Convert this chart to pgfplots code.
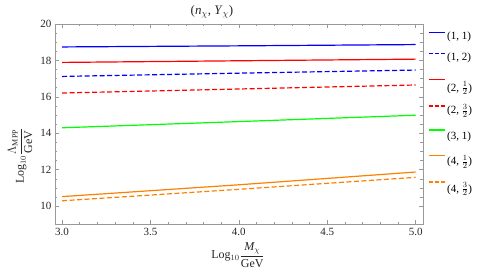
\documentclass[border=0pt]{standalone}
\usepackage{fontspec}
\setmainfont{Liberation Serif}
\usepackage{pgfplots}
\pgfplotsset{compat=1.18}
\definecolor{mblue}{rgb}{0,0,1}
\definecolor{mred}{rgb}{1,0,0}
\definecolor{mgreen}{rgb}{0,1,0}
\definecolor{morange}{rgb}{1,0.5,0}
\newcommand{\vstrut}[1]{\rule[\dimexpr 3pt - #1pt\relax]{0pt}{\dimexpr #1pt + #1pt\relax}}
\pgfplotsset{
  legsolid/.style={legend image code/.code={\draw[draw=#1, line width=1.2pt] (0pt,0pt) -- (16pt,0pt);}},
  legdash/.style={legend image code/.code={\draw[draw=#1, line width=1.2pt, dash pattern=on 4pt off 2pt] (0pt,0pt) -- (16pt,0pt);}},
}
\begin{document}
\begin{tikzpicture}
\useasboundingbox (0pt,0pt) rectangle (491pt,280pt);
\begin{axis}[at={(55pt,55.7pt)}, anchor=south west, scale only axis,
  width=367.7pt, height=200.3pt,
  xmin=2.96, xmax=5.04, ymin=9, ymax=20,
  xtick={3,3.5,4,4.5,5}, minor x tick num=4,
  ytick={10,12,14,16,18,20}, minor y tick num=3,
  xticklabel style={/pgf/number format/fixed, /pgf/number format/fixed zerofill, /pgf/number format/precision=1},
  /pgf/number format/assume math mode=true,
  tick align=inside, major tick length=4pt, minor tick length=2.3pt,
  axis line style={black!40}, every tick/.style={black!40, line width=0.5pt},
  tick label style={font=\fontsize{11}{12}\selectfont, text=black!85},
  legend style={at={(rel axis cs:1,1)}, anchor=north west, xshift=5pt, yshift=2.5pt,
    draw=none, fill=none, row sep=0pt, inner sep=0pt,
    font=\fontsize{11}{12}\selectfont,
    /tikz/every even column/.append style={column sep=5pt}},
  legend cell align=left,
]
\addplot[color=mblue, line width=1.2pt, legsolid=mblue] coordinates {(3,18.74) (4,18.80) (5,18.87)};
\addlegendentry{\vstrut{12.5}(1, 1)}
\addplot[color=mblue, line width=1.2pt, dash pattern=on 5pt off 2.5pt, legdash=mblue] coordinates {(3,17.12) (4,17.30) (5,17.47)};
\addlegendentry{\vstrut{12.5}(1, 2)}
\addplot[color=mred, line width=1.2pt, legsolid=mred] coordinates {(3,17.89) (4,17.98) (5,18.07)};
\addlegendentry{\vstrut{22.5}(2, $\frac{1}{2}$)}
\addplot[color=mred, line width=1.2pt, dash pattern=on 5pt off 2.5pt, legdash=mred] coordinates {(3,16.21) (4,16.43) (5,16.65)};
\addlegendentry{\vstrut{14}(2, $\frac{3}{2}$)}
\addplot[color=mgreen, line width=1.2pt, legsolid=mgreen] coordinates {(3,14.30) (4,14.64) (5,14.99)};
\addlegendentry{\vstrut{17}(3, 1)}
\addplot[color=morange, line width=1.2pt, legsolid=morange] coordinates {(3,10.52) (4,11.17) (5,11.87)};
\addlegendentry{\vstrut{17}(4, $\frac{1}{2}$)}
\addplot[color=morange, line width=1.2pt, dash pattern=on 5pt off 2.5pt, legdash=morange] coordinates {(3,10.29) (4,10.92) (5,11.58)};
\addlegendentry{\vstrut{19}(4, $\frac{3}{2}$)}
\end{axis}
\node[font=\fontsize{13}{15}\selectfont, text=black!85] at (212pt,268pt) {(\textit{n}$_{\chi}$, \textit{Y}$_{\chi}$)};
\node[font=\fontsize{12}{14}\selectfont, text=black!85] at (238pt,25pt) {Log$_{10}\displaystyle\frac{\mathit{M}_{\chi}}{\mathrm{GeV}}$};
\node[font=\fontsize{12}{14}\selectfont, text=black!85, rotate=90] at (20pt,124pt) {Log$_{10}\displaystyle\frac{\Lambda_{\mathrm{MPP}}}{\mathrm{GeV}}$};
\end{tikzpicture}
\end{document}
